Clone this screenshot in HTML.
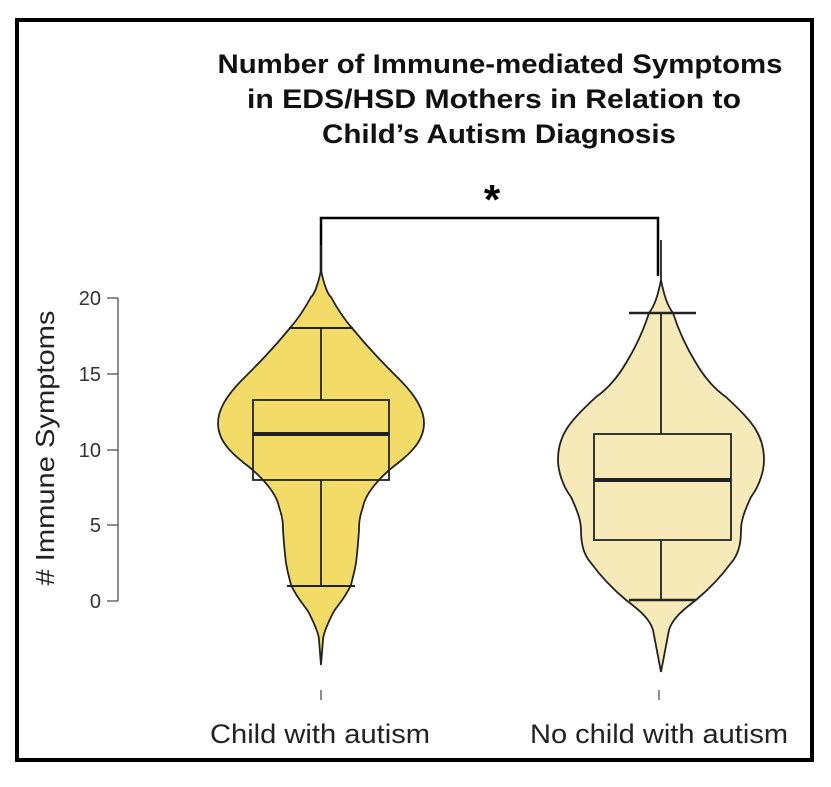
<!DOCTYPE html>
<html><head><style>
html,body{margin:0;padding:0;background:#fff;}
</style></head><body>
<svg width="831" height="782" viewBox="0 0 831 782" xmlns="http://www.w3.org/2000/svg" font-family="Liberation Sans, sans-serif">
<rect x="0" y="0" width="831" height="782" fill="#fff"/>
<rect x="17" y="20" width="795" height="740" fill="none" stroke="#000" stroke-width="4"/>
<g font-weight="bold" font-size="27" text-anchor="middle" fill="#111">
<text x="500" y="73" textLength="565" lengthAdjust="spacingAndGlyphs">Number of Immune-mediated Symptoms</text>
<text x="494" y="108" textLength="494" lengthAdjust="spacingAndGlyphs">in EDS/HSD Mothers in Relation to</text>
<text x="499" y="143" textLength="354" lengthAdjust="spacingAndGlyphs">Child’s Autism Diagnosis</text>
</g>
<text x="492" y="214" font-size="42" font-weight="bold" text-anchor="middle">*</text>
<path d="M321,276 V218 H658 V276" fill="none" stroke="#000" stroke-width="2.5"/>
<g stroke="#444" stroke-width="1.2">
<line x1="118" y1="298" x2="118" y2="601"/>
<line x1="107" y1="298" x2="118" y2="298"/>
<line x1="107" y1="374" x2="118" y2="374"/>
<line x1="107" y1="450" x2="118" y2="450"/>
<line x1="107" y1="525" x2="118" y2="525"/>
<line x1="107" y1="601" x2="118" y2="601"/>
<line x1="321" y1="690" x2="321" y2="700"/>
<line x1="659" y1="690" x2="659" y2="700"/>
</g>
<g font-size="20" fill="#333" text-anchor="end">
<text x="101" y="305">20</text>
<text x="101" y="381">15</text>
<text x="101" y="457">10</text>
<text x="101" y="532">5</text>
<text x="101" y="608">0</text>
</g>
<text transform="translate(54,448) rotate(-90)" font-size="26" fill="#222" text-anchor="middle" textLength="275" lengthAdjust="spacingAndGlyphs"># Immune Symptoms</text>
<g font-size="27" fill="#222" text-anchor="middle">
<text x="320" y="743" textLength="220" lengthAdjust="spacingAndGlyphs">Child with autism</text>
<text x="659" y="743" textLength="258" lengthAdjust="spacingAndGlyphs">No child with autism</text>
</g>
<path d="M321,245 L321,270 C324,285 328,295 331,297 C338,310 345,320 352,328 C370,350 385,365 400,380 C415,395 424,410 424,423 C424,440 412,452 398,463 C378,478 365,495 363,507 C359,518 359,525 359,530 C358,545 357,555 356,563 C354,575 352,580 351,585 C344,600 336,607 333,613 C327,625 323,635 323,640 L321,665 L319,640 C319,635 315,625 309,613 C306,607 298,600 291,585 C290,580 288,575 286,563 C285,555 284,545 283,530 C283,525 283,518 279,507 C277,495 264,478 244,463 C230,452 218,440 218,423 C218,410 227,395 242,380 C257,365 272,350 290,328 C297,320 304,310 311,297 C314,295 318,285 321,270 Z" fill="#f2db67" stroke="#222" stroke-width="1.8"/>
<g stroke="#222" fill="none">
<line x1="321" y1="328" x2="321" y2="400" stroke-width="1.8"/>
<line x1="321" y1="480" x2="321" y2="586" stroke-width="1.8"/>
<line x1="289" y1="328" x2="353" y2="328" stroke-width="2"/>
<line x1="287" y1="586" x2="355" y2="586" stroke-width="2"/>
<rect x="253" y="400" width="136" height="80" stroke-width="1.8"/>
<line x1="253" y1="434" x2="389" y2="434" stroke-width="4"/>
</g>
<path d="M661,240 L661,280 C664,295 667,305 673,313 C680,335 688,350 696,363 C706,380 716,390 726,397 C740,410 750,420 756,430 C762,440 764,450 764,460 C764,470 760,485 751,497 C745,510 741,520 741,530 C741,545 738,555 731,563 C720,578 708,590 696,600 C680,612 672,620 669,630 L661,672 L653,630 C650,620 642,612 626,600 C614,590 602,578 591,563 C584,555 581,545 581,530 C581,520 577,510 571,497 C562,485 558,470 558,460 C558,450 560,440 566,430 C572,420 582,410 596,397 C606,390 616,380 626,363 C634,350 642,335 649,313 C655,305 658,295 661,280 Z" fill="#f6ebb8" stroke="#222" stroke-width="1.8"/>
<g stroke="#222" fill="none">
<line x1="661" y1="313" x2="661" y2="434" stroke-width="1.8"/>
<line x1="661" y1="540" x2="661" y2="600" stroke-width="1.8"/>
<line x1="629" y1="313" x2="696" y2="313" stroke-width="2.5"/>
<line x1="629" y1="600" x2="696" y2="600" stroke-width="2.5"/>
<rect x="594" y="434" width="137" height="106" stroke-width="1.8"/>
<line x1="594" y1="480" x2="731" y2="480" stroke-width="4"/>
</g>
</svg>
</body></html>
